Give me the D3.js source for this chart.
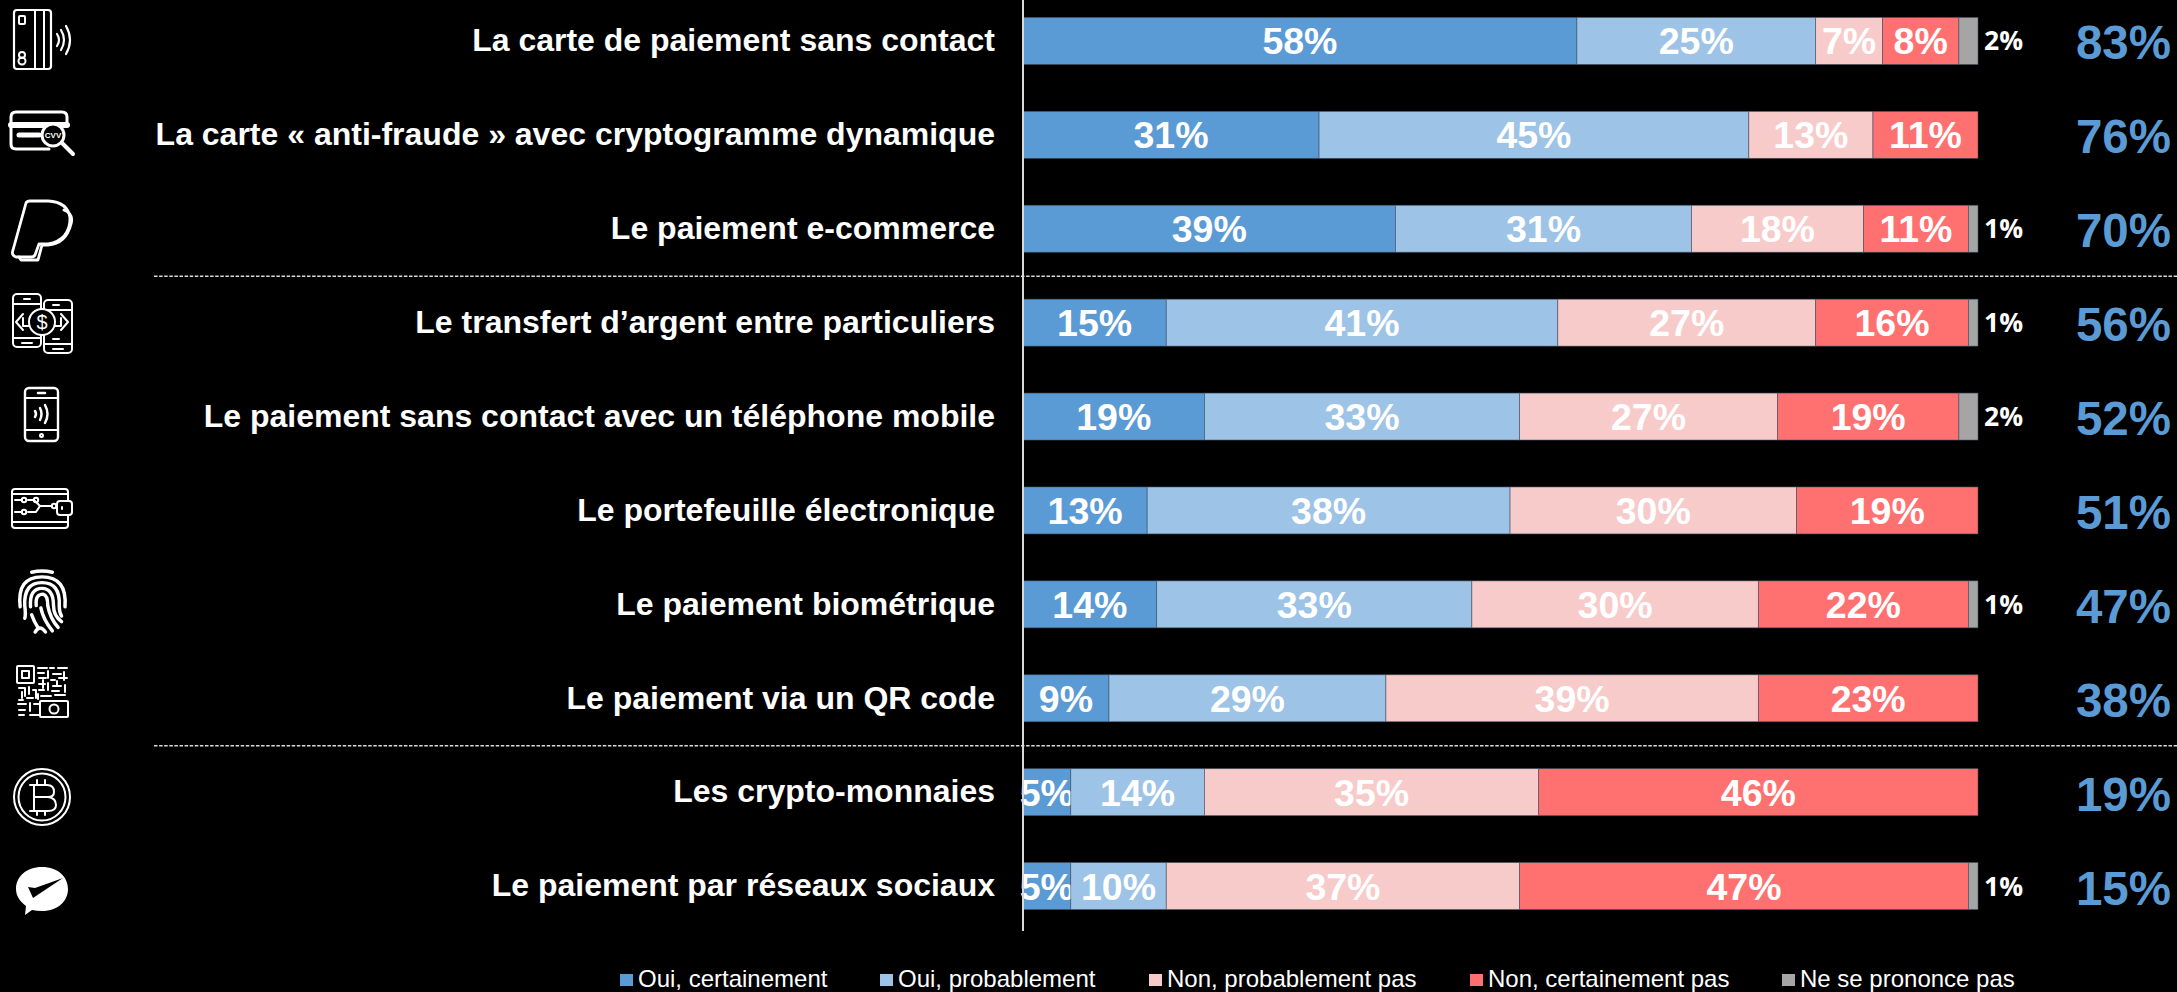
<!DOCTYPE html>
<html lang="fr">
<head>
<meta charset="utf-8">
<title>Moyens de paiement</title>
<script src="https://cdnjs.cloudflare.com/ajax/libs/d3/7.8.5/d3.min.js"></script>
<style>
    html, body { margin: 0; background: #000; overflow: hidden; }
    svg { display: block; font-family: "Liberation Sans", Arial, sans-serif; }
</style>
</head>
<body>
<div id="chart"></div>
<script>
// Data
const categories = [
    "La carte de paiement sans contact",
    "La carte « anti-fraude » avec cryptogramme dynamique",
    "Le paiement e-commerce",
    "Le transfert d’argent entre particuliers",
    "Le paiement sans contact avec un téléphone mobile",
    "Le portefeuille électronique",
    "Le paiement biométrique",
    "Le paiement via un QR code",
    "Les crypto-monnaies",
    "Le paiement par réseaux sociaux"
];
const seriesNames = ["Oui, certainement", "Oui, probablement", "Non, probablement pas", "Non, certainement pas", "Ne se prononce pas"];
const ouiCertainement = [58, 31, 39, 15, 19, 13, 14, 9, 5, 5];
const ouiProbablement = [25, 45, 31, 41, 33, 38, 33, 29, 14, 10];
const nonProbablement = [7, 13, 18, 27, 27, 30, 30, 39, 35, 37];
const nonCertainement = [8, 11, 11, 16, 19, 19, 22, 23, 46, 47];
const nePrononcePas = [2, 0, 1, 1, 2, 0, 1, 0, 0, 1];
const totalOui = [83, 76, 70, 56, 52, 51, 47, 38, 19, 15];
const separatorsAfter = [2, 7];
const colors = ["#5B9BD5", "#9DC3E6", "#F8CBCB", "#FF7171", "#A5A5A5"];

const width = 2177;
const height = 992;
const rows = categories.map((c, i) => {
    const row = { category: c };
    [ouiCertainement, ouiProbablement, nonProbablement, nonCertainement, nePrononcePas]
        .forEach((s, k) => { row[seriesNames[k]] = s[i]; });
    return row;
});

const svg = d3.select("#chart").append("svg")
    .attr("width", width)
    .attr("height", height);

// Scales
const x = d3.scaleLinear().domain([0, 100]).range([1023, 1978]);
const y = d3.scaleBand().domain(categories).range([-6, 933]).paddingInner(0.5).paddingOuter(0.25);
const color = d3.scaleOrdinal().domain(seriesNames).range(colors);
const stacked = d3.stack().keys(seriesNames)(rows);

// Dashed separators
svg.selectAll(".sep")
    .data(separatorsAfter)
    .enter()
    .append("line")
    .attr("x1", 154)
    .attr("x2", width)
    .attr("y1", d => y(categories[d]) + y.bandwidth() + y.step() * 0.25 + 0.5)
    .attr("y2", d => y(categories[d]) + y.bandwidth() + y.step() * 0.25 + 0.5)
    .attr("stroke", "#d9d9d9")
    .attr("stroke-width", 1.4)
    .attr("stroke-dasharray", "3.5 1.6");

// Bars
const groups = svg.selectAll(".serie")
    .data(stacked)
    .enter()
    .append("g")
    .attr("fill", d => color(d.key));

groups.selectAll("rect")
    .data(d => d.filter(p => p[1] > p[0]))
    .enter()
    .append("rect")
    .attr("x", d => x(d[0]))
    .attr("y", d => y(d.data.category))
    .attr("width", d => x(d[1]) - x(d[0]))
    .attr("height", y.bandwidth())
    .attr("stroke", "#44546A")
    .attr("stroke-opacity", 0.75)
    .attr("stroke-width", 0.75);

// Category labels + axis
const axis = svg.append("g")
    .attr("transform", `translate(${x(0)},0)`)
    .call(d3.axisLeft(y).tickSize(0).tickPadding(28));
axis.select(".domain").remove();
axis.selectAll("text")
    .attr("fill", "#fff")
    .attr("font-family", '"Liberation Sans", Arial, sans-serif')
    .attr("font-size", 32)
    .attr("font-weight", "bold")
    .attr("dy", "0.32em");

svg.append("line")
    .attr("x1", x(0)).attr("x2", x(0))
    .attr("y1", 0).attr("y2", 931)
    .attr("stroke", "#d9d9d9")
    .attr("stroke-width", 2);

// Value labels inside the bars
groups.filter((d, i) => i < 4).selectAll("text")
    .data(d => d)
    .enter()
    .append("text")
    .attr("x", d => (x(d[0]) + x(d[1])) / 2)
    .attr("y", d => y(d.data.category) + y.bandwidth() / 2)
    .attr("dy", "0.36em")
    .attr("text-anchor", "middle")
    .attr("fill", "#fff")
    .attr("font-size", 37.5)
    .attr("font-weight", "bold")
    .text(d => (d[1] - d[0]) + "%");

// Ne se prononce pas labels, outside
svg.selectAll(".nsp")
    .data(nePrononcePas.map((v, i) => ({ v, c: categories[i] })).filter(d => d.v > 0))
    .enter()
    .append("text")
    .attr("x", 1984)
    .attr("y", d => y(d.c) + y.bandwidth() / 2)
    .attr("dy", "0.36em")
    .attr("fill", "#fff")
    .attr("font-family", '"Open Sans", sans-serif')
    .attr("font-size", 26.5)
    .attr("font-weight", "bold")
    .text(d => d.v + "%");

// Totals on the right
svg.selectAll(".total")
    .data(totalOui)
    .enter()
    .append("text")
    .attr("x", 2171)
    .attr("y", (d, i) => y(categories[i]) + y.bandwidth() / 2)
    .attr("dy", "0.39em")
    .attr("text-anchor", "end")
    .attr("fill", "#5B9BD5")
    .attr("font-size", 47.5)
    .attr("font-weight", "bold")
    .text(d => d + "%");

// Legend
const legendX = d3.scaleOrdinal().domain(seriesNames).range([620, 880, 1149, 1470, 1782]);
const legend = svg.selectAll(".legend")
    .data(seriesNames)
    .enter()
    .append("g")
    .attr("transform", d => `translate(${legendX(d)},974)`);
legend.append("rect")
    .attr("width", 13)
    .attr("height", 12)
    .attr("fill", d => color(d));
legend.append("text")
    .attr("x", 18)
    .attr("y", 13)
    .attr("fill", "#fff")
    .attr("font-size", 24)
    .text(d => d);

// Icons (outline pictos on the left), each drawn in its own local coordinates
const icons = svg.append("g")
    .attr("fill", "none")
    .attr("stroke", "#fff")
    .attr("stroke-width", 2)
    .attr("stroke-linecap", "round")
    .attr("stroke-linejoin", "round");
const icon = (tx, ty) => icons.append("g").attr("transform", `translate(${tx},${ty})`);
const path = (g, d, w) => g.append("path").attr("d", d).attr("stroke-width", w || 2);

// contactless card
let g = icon(14, 10);
g.append("rect").attr("width", 37).attr("height", 59).attr("rx", 3).attr("stroke-width", 2.2);
path(g, "M21 0V59M30 0V59");
g.append("rect").attr("x", 5).attr("y", 6).attr("width", 6).attr("height", 8).attr("rx", 1);
g.append("circle").attr("cx", 8).attr("cy", 45).attr("r", 3);
g.append("circle").attr("cx", 8).attr("cy", 51).attr("r", 3.5);
path(g, "M43 24Q47 30 43 36M47 20Q53 30 47 40M52 16Q60 30 52 44", 2.2);

// card with cvv magnifier
g = icon(11, 112);
path(g, "M38 37H5Q0 37 0 32V5Q0 0 5 0H51Q56 0 56 5V14", 3);
path(g, "M0 13H56", 6);
path(g, "M8 23H28", 5);
g.append("circle").attr("cx", 42).attr("cy", 23).attr("r", 11).attr("fill", "#000").attr("stroke-width", 3);
path(g, "M51 31L62 42", 4);
g.append("text").attr("x", 42).attr("y", 26).attr("text-anchor", "middle").attr("font-size", 8)
    .attr("font-weight", "bold").attr("fill", "#fff").attr("stroke", "none").text("CVV");

// paypal
g = icon(12, 200);
path(g, "M14 3Q15 1 18 1H36Q56 2 58 18Q58 40 36 44H27L23 55Q22 57 19 57H4Q-1 55 1 50Z", 2.8);
path(g, "M52 10Q62 14 59 24Q54 44 36 45H30L26 60H9L7 57", 2.8);

// phones + dollar
g = icon(12, 294);
g.append("rect").attr("x", 1).attr("width", 28).attr("height", 53).attr("rx", 4);
g.append("rect").attr("x", 32).attr("y", 6).attr("width", 28).attr("height", 53).attr("rx", 4);
path(g, "M1 10H29M1 44H29M32 16H60M32 50H60");
path(g, "M10 49H20M41 55H51");
path(g, "M12 5H18M41 11H47M41 45H47");
g.append("circle").attr("cx", 30).attr("cy", 28).attr("r", 13).attr("fill", "#000");
g.append("text").attr("x", 30).attr("y", 35).attr("text-anchor", "middle").attr("font-size", 20)
    .attr("fill", "#fff").attr("stroke", "none").text("$");
path(g, "M11 20L4 28L11 36M11 24V32H17M49 20L56 28L49 36M49 24V32H43");

// contactless phone
g = icon(25, 388);
g.append("rect").attr("width", 33).attr("height", 53).attr("rx", 4).attr("stroke-width", 2.4);
path(g, "M0 10H33M0 42H33");
path(g, "M13 5H20", 2.5);
g.append("circle").attr("cx", 16.5).attr("cy", 47.5).attr("r", 1.5);
path(g, "M10 23Q12 26 10 29M15 20Q18 26 15 32M20 17Q25 26 20 35", 2.5);

// digital wallet
g = icon(12, 488);
path(g, "M56 13V4Q56 1 53 1H3Q0 1 0 4V37Q0 40 3 40H53Q56 40 56 37V27");
path(g, "M0 6H56M0 34H56");
g.append("rect").attr("x", 45).attr("y", 13).attr("width", 15).attr("height", 14).attr("rx", 3);
path(g, "M50 19V21");
path(g, "M3 12H10M16 12H22L28 18H40M3 24H10M16 24H24L28 18");
g.append("circle").attr("cx", 12).attr("cy", 12).attr("r", 2.2);
g.append("circle").attr("cx", 24).attr("cy", 12).attr("r", 2.2);
g.append("circle").attr("cx", 12).attr("cy", 24).attr("r", 2.2);
g.append("circle").attr("cx", 42).attr("cy", 18).attr("r", 2.2);

// fingerprint
g = icon(42, 601);
const fp = g.append("g").attr("transform", "scale(1.15)");
path(fp, "M-9 -25Q0 -27 9 -25", 3);
path(fp, "M-19 5Q-22 -21 0 -21Q22 -21 20 5", 3);
path(fp, "M-15 15Q-14 12 -15 4Q-16 -16 0 -16Q16 -16 15 4Q15 10 17 13", 3);
path(fp, "M-10 5Q-11 -11 0 -11Q10 -11 10 4Q10 13 17 18", 3);
path(fp, "M-5 4Q-6 -6 1 -6Q5 -5 5 4Q7 15 14 23", 3);
path(fp, "M-1 6Q1 16 9 26", 3);
path(fp, "M-9 12Q-7 18 -3 24", 3);
path(fp, "M-6 27Q-2 20 3 27", 3);

// qr code
g = icon(17, 666);
g.append("rect").attr("x", 0).attr("y", 0).attr("width", 17).attr("height", 17).attr("rx", 1);
g.append("rect").attr("x", 5).attr("y", 5).attr("width", 7).attr("height", 7);
path(g, "M21 2H30M33 2H37M41 2H50M21 7H27M31 5V12M36 8H44M47 6V14M22 12H29M34 14H38M42 12H50M22 18H28M31 17V24M36 20H44M48 19V26M22 24H27M35 25H42M40 15V20M26 14V22M2 22H8V30M12 21V28M16 24H19V32M2 34H6M10 32H16M24 30H34M1 38H9M13 37V45M17 38H22M2 44H8M2 49H7M13 49H22M5 26V32M21 28V33M38 29H48");
g.append("rect").attr("x", 23).attr("y", 35).attr("width", 28).attr("height", 16).attr("rx", 1);
g.append("circle").attr("cx", 37).attr("cy", 43).attr("r", 4.5);

// bitcoin
g = icon(42, 797);
g.append("circle").attr("r", 28);
g.append("circle").attr("r", 23.5);
path(g, "M-12 -12H5Q12 -12 12 -5Q12 0 6 0Q14 1 14 8Q14 14 6 14H-12M-8 -12V14M-8 0H6");
path(g, "M-5 -12V-17M3 -12V-17M-5 14V18M3 14V18");

// chat bubble with check mark
g = icon(42, 890);
g.append("path")
    .attr("d", "M0 -23C16 -23 26 -13 26 -1C26 11 16 21 0 21Q-5 21 -10 20L-17 25L-16 16C-21 12 -26 7 -26 -1C-26 -13 -16 -23 0 -23Z")
    .attr("fill", "#fff")
    .attr("stroke", "none");
g.append("path")
    .attr("d", "M-14 -3L-9 8L21 -12L-7 -2Z")
    .attr("fill", "#000")
    .attr("stroke", "none");
</script>
</body>
</html>
